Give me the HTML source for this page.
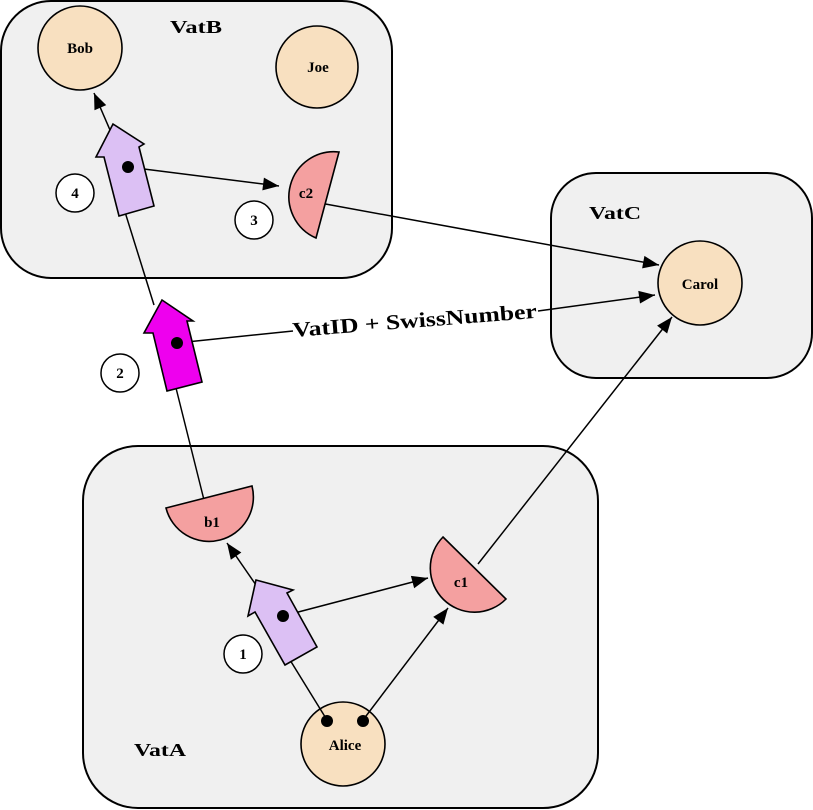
<!DOCTYPE html>
<html><head><meta charset="utf-8"><style>
html,body{margin:0;padding:0;background:#fff}
svg{display:block}
text{font-family:"Liberation Serif",serif;font-weight:bold}
</style></head><body>
<svg width="813" height="810" viewBox="0 0 813 810" xmlns="http://www.w3.org/2000/svg">
<defs>
<marker id="ah" viewBox="0 0 10 10" refX="10" refY="5" markerWidth="18" markerHeight="16" markerUnits="userSpaceOnUse" orient="auto">
<path d="M0,1 L10,5 L0,9 z" fill="#000"/>
</marker>
</defs>
<g stroke="#000" stroke-width="2" fill="#f0f0f0">
<rect x="1" y="1" width="391" height="277" rx="50"/>
<rect x="551" y="173" width="261" height="205" rx="45"/>
<rect x="83" y="446" width="515" height="362" rx="55"/>
</g>
<g font-size="18">
<text x="170" y="33" textLength="52" lengthAdjust="spacingAndGlyphs">VatB</text>
<text x="589" y="219" textLength="52" lengthAdjust="spacingAndGlyphs">VatC</text>
<text x="134" y="756" textLength="52" lengthAdjust="spacingAndGlyphs">VatA</text>
</g>
<g stroke="#000" stroke-width="1.6" fill="#f8e0c0">
<circle cx="80" cy="48" r="42"/>
<circle cx="317" cy="67" r="41"/>
<circle cx="700" cy="283" r="42"/>
<circle cx="343" cy="744" r="42"/>
</g>
<g font-size="15" text-anchor="middle">
<text x="80" y="53">Bob</text>
<text x="318" y="72">Joe</text>
<text x="700" y="289">Carol</text>
<text x="345" y="750">Alice</text>
</g>
<g stroke="#000" stroke-width="1.5" fill="none">
<line x1="110" y1="130" x2="94" y2="93" marker-end="url(#ah)"/>
<line x1="125" y1="212" x2="154" y2="305"/>
<line x1="128" y1="167" x2="279" y2="186" marker-end="url(#ah)"/>
<line x1="320" y1="203" x2="659" y2="265" marker-end="url(#ah)"/>
<line x1="177" y1="343" x2="293" y2="331"/>
<line x1="538" y1="311" x2="655" y2="295" marker-end="url(#ah)"/>
<line x1="176" y1="388" x2="204" y2="500"/>
<line x1="256" y1="585" x2="227" y2="543" marker-end="url(#ah)"/>
<line x1="283" y1="616" x2="428" y2="578" marker-end="url(#ah)"/>
<line x1="363" y1="720" x2="448" y2="608" marker-end="url(#ah)"/>
<line x1="327" y1="720" x2="290" y2="660"/>
<line x1="478" y1="564" x2="672" y2="317" marker-end="url(#ah)"/>
</g>
<g stroke="#000" stroke-width="1.6" fill="#f4a0a0">
<path d="M166,508 L252,486 A44,44 0 0 1 166,508 z"/>
<path d="M443,537 L506,599 A44,44 0 0 1 443,537 z"/>
<path d="M339,152 L316,238 A45,45 0 0 1 339,152 z"/>
</g>
<g font-size="15" text-anchor="middle">
<text x="212" y="527">b1</text>
<text x="461" y="587">c1</text>
<text x="306" y="198">c2</text>
</g>
<g stroke="#000" stroke-width="1.6">
<polygon fill="#dcc0f4" points="113,124 144,144 139,147 154,206 119,216 104,157 96,157"/>
<polygon fill="#ee00ee" points="162,300 193,321 187,321 202,382 167,391 153,333 144,333"/>
<polygon fill="#dcc0f4" points="256,580 293,590 287,593 317,647 285,665 255,612 248,616"/>
</g>
<g fill="#000">
<circle cx="128" cy="167" r="6"/>
<circle cx="177" cy="343" r="6"/>
<circle cx="283" cy="616" r="6"/>
<circle cx="327" cy="721" r="6"/>
<circle cx="363" cy="721" r="6"/>
</g>
<g stroke="#000" stroke-width="1.5" fill="#fff">
<circle cx="75" cy="193" r="19"/>
<circle cx="254" cy="220" r="19"/>
<circle cx="120" cy="373" r="19"/>
<circle cx="243" cy="654" r="19"/>
</g>
<g font-size="15" text-anchor="middle">
<text x="75" y="198">4</text>
<text x="254" y="225">3</text>
<text x="120" y="378">2</text>
<text x="243" y="659">1</text>
</g>
<text x="293" y="337" font-size="21" textLength="245" lengthAdjust="spacingAndGlyphs" transform="rotate(-4.5 293 337)">VatID + SwissNumber</text>
</svg>
</body></html>
